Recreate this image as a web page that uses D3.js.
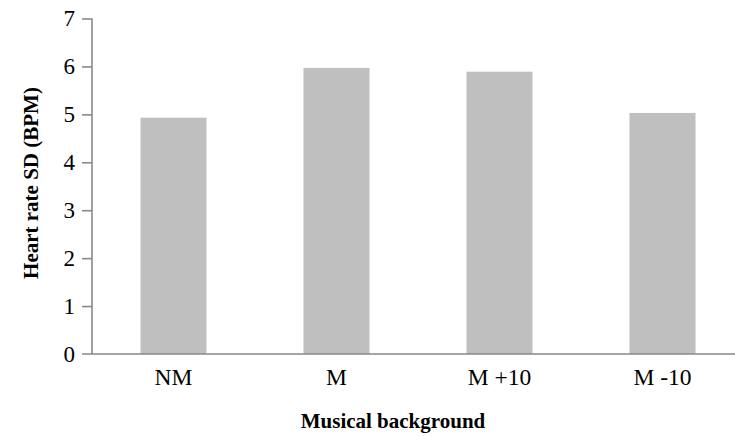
<!DOCTYPE html>
<html>
<head>
<meta charset="utf-8">
<script src="https://cdn.jsdelivr.net/npm/d3@7"></script>
<style>
html,body{margin:0;padding:0;background:#fff;}
svg{display:block;}
svg text{font-family:"Liberation Serif","Times New Roman",Times,"DejaVu Serif",serif !important;fill:#000;}
</style>
</head>
<body>
<svg id="chart" width="735" height="436"></svg>
<script>
const categories = ["NM", "M", "M +10", "M -10"];
const values = [4.93, 5.97, 5.89, 5.03];
const yTicks = [0, 1, 2, 3, 4, 5, 6, 7];
const yTitle = "Heart rate SD (BPM)";
const xTitle = "Musical background";

const svg = d3.select("#chart");
const x0 = 92, plotW = 652, yTop = 18.5, yBot = 354;

const x = d3.scaleBand().domain(categories).range([x0, x0 + plotW])
  .paddingInner(0.595).paddingOuter(0.2975);
const y = d3.scaleLinear().domain([0, 7]).range([yBot, yTop]);

svg.append("g").selectAll("rect").data(values).join("rect")
  .attr("x", (d, i) => x(categories[i]))
  .attr("y", d => y(d))
  .attr("width", x.bandwidth())
  .attr("height", d => y(0) - y(d))
  .attr("fill", "#bfbfbf");

// y axis
const yAxis = d3.axisLeft(y).tickValues(yTicks).tickSize(10).tickPadding(7).tickFormat(d3.format("d"));
const gy = svg.append("g").attr("transform", `translate(${x0},0)`).call(yAxis).attr("font-family", null);
gy.select(".domain").attr("stroke", "#898989").attr("stroke-width", 1.6).attr("d", `M-0,${yTop}H0V${yBot}`);
gy.selectAll(".tick line").attr("stroke", "#898989").attr("stroke-width", 1.6);
gy.selectAll(".tick text").style("font-size", "23px").attr("fill", "#000");
gy.selectAll(".tick").filter(d => d === 0).select("line").remove();

// x axis
const xAxis = d3.axisBottom(x).tickSize(0).tickPadding(14);
const gx = svg.append("g").attr("transform", `translate(0,${yBot})`).call(xAxis).attr("font-family", null);
gx.select(".domain").attr("stroke", "#898989").attr("stroke-width", 1.6).attr("d", `M82,0H735`);
gx.selectAll(".tick text").style("font-size", "23.5px").attr("fill", "#000");

svg.append("text").attr("x", 393).attr("y", 428).attr("text-anchor", "middle")
  .style("font-size", "21px").style("font-weight", "bold").text(xTitle);
svg.append("text").attr("transform", "translate(38,183) rotate(-90)").attr("text-anchor", "middle")
  .style("font-size", "21px").style("font-weight", "bold").text(yTitle);
</script>
</body>
</html>
